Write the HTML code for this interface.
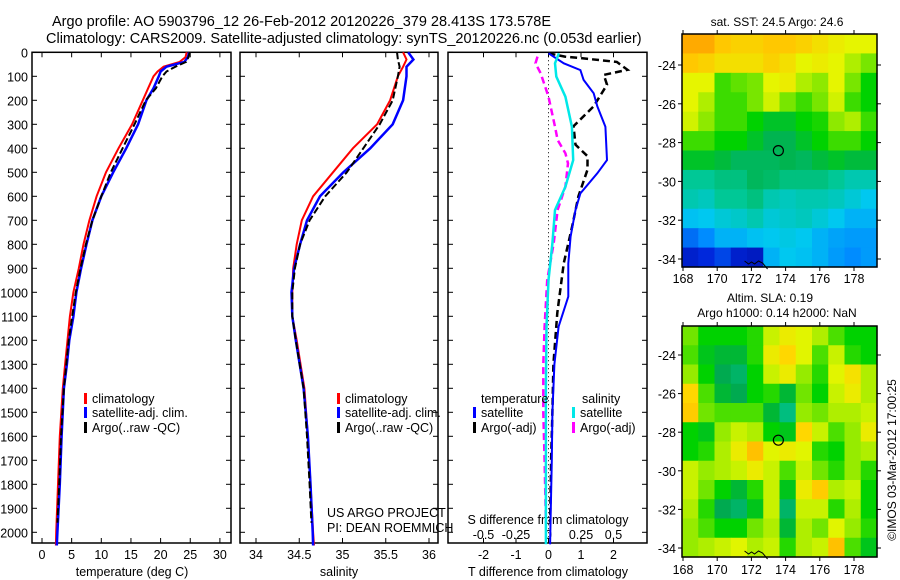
<!DOCTYPE html>
<html><head><meta charset="utf-8"><style>
html,body{margin:0;padding:0;background:#fff;}
svg{display:block;font-family:"Liberation Sans",sans-serif;}
text{fill:#000;}
</style></head><body>
<svg id="fig" width="900" height="580" viewBox="0 0 900 580" xmlns="http://www.w3.org/2000/svg">
<text x="52" y="26" font-size="14.5">Argo profile: AO 5903796_12 26-Feb-2012 20120226_379 28.413S 173.578E</text>
<text x="46" y="43" font-size="14.5">Climatology: CARS2009. Satellite-adjusted climatology: synTS_20120226.nc (0.053d earlier)</text>
<g id="p1"></g>
<g id="p2"></g>
<g id="p3"></g>
<g id="m1"></g>
<g id="m2"></g>
<text x="777" y="26" font-size="12" text-anchor="middle">sat. SST: 24.5 Argo: 24.6</text>
<text x="770" y="302" font-size="12" text-anchor="middle">Altim. SLA: 0.19</text>
<text x="777" y="317" font-size="12" text-anchor="middle">Argo h1000: 0.14 h2000: NaN</text>
<text transform="translate(896,460) rotate(-90)" font-size="12" text-anchor="middle">©IMOS 03-Mar-2012 17:00:25</text>
</svg>
<script>
// ---- data ----
const tDepth = [0,20,40,60,80,100,150,200,300,400,500,600,700,800,900,1000,1100,1200,1300,1400,1600,1800,2000,2055];
const tClim  = [24.4,24.2,23.2,20.5,19.5,18.8,17.9,17.0,15.2,12.9,10.8,9.2,8.0,7.0,6.2,5.3,4.7,4.3,3.9,3.5,3.0,2.7,2.4,2.35];
const tSat   = [24.8,24.6,24.0,21.0,20.0,19.7,18.8,17.6,16.2,14.2,12.0,10.0,8.5,7.5,6.6,5.8,5.3,4.6,4.2,3.7,3.3,3.0,2.6,2.5];
const argoDepth = [0,20,40,60,80,100,150,200,300,400,500,600,700,800,900,1000,1100,1200,1300,1400,1600,1800,1960];
const tArgo  = [24.9,24.7,24.3,22.5,21.0,20.3,19.2,17.5,15.6,13.6,11.6,10.0,8.5,7.4,6.5,5.7,5.1,4.5,4.1,3.7,3.2,2.9,2.6];
const sDepth = [0,30,60,100,200,300,400,500,600,700,800,900,1000,1100,1200,1400,1600,1800,2000,2055];
const sClim  = [35.70,35.74,35.70,35.64,35.55,35.40,35.12,34.89,34.66,34.53,34.47,34.43,34.42,34.42,34.47,34.56,34.60,34.63,34.66,34.67];
const sSat   = [35.76,35.82,35.74,35.74,35.70,35.58,35.32,35.01,34.74,34.59,34.51,34.44,34.41,34.42,34.46,34.55,34.60,34.63,34.655,34.66];
const sArgoDepth = [0,30,60,100,200,300,400,500,600,700,800,900,1000,1100,1200,1400,1600,1800,1960];
const sArgo  = [35.63,35.64,35.66,35.64,35.58,35.43,35.24,35.05,34.80,34.62,34.51,34.45,34.42,34.42,34.46,34.55,34.59,34.62,34.64];
const dDepth = [4,46,74,115,171,225,310,449,504,588,657,768,880,1018,1143,1300,1500,1700,1900,2050];
const dTsat  = [0,0.47,0.98,1.08,1.39,1.5,1.75,1.8,1.5,0.98,0.83,0.68,0.61,0.61,0.31,0.18,0.12,0.1,0.07,0.05];
const daDepth = [4,18,24,40,73,94,135,225,308,385,433,489,600,725,878,1086,1300,1500,1700,1960];
const dTargo = [0,0.5,0.98,2.1,2.43,1.7,1.8,1.39,0.77,0.83,1.2,1.2,0.92,0.73,0.47,0.27,0.15,0.12,0.08,0.05];
const dsDepth = [4,46,101,185,310,449,560,657,796,949,1143,1400,1700,2050];
const dSsat  = [0.08,0.05,0.06,0.13,0.18,0.19,0.13,0.05,0.03,0.0,-0.015,-0.02,-0.02,-0.02];
const dsaDepth = [18,46,88,185,310,365,421,463,560,657,796,949,1143,1300,1500,1700,1960];
const dSargo = [-0.085,-0.1,-0.06,0.0,0.05,0.07,0.13,0.15,0.13,0.07,0.04,-0.01,-0.03,-0.04,-0.04,-0.03,-0.02];
const depthTicks = [0,100,200,300,400,500,600,700,800,900,1000,1100,1200,1300,1400,1500,1600,1700,1800,1900,2000];
const tTicks = [0,5,10,15,20,25,30];
const sTicks = [34,34.5,35,35.5,36];
const sTickLabels = ["34","34.5","35","35.5","36"];
const dtTicks = [-2,-1,0,1,2];
const dsTicks = [-0.5,-0.25,0,0.25,0.5];
const dsTickLabels = ["-0.5","-0.25","0","0.25","0.5"];
const latTicks = [-24,-26,-28,-30,-32,-34];
const lonTicks = [168,170,172,174,176,178];
const sstGrid = [
[0.85,0.85,0.8,0.78,0.78,0.8,0.8,0.78,0.75,0.72,0.7,0.7],
[0.8,0.78,0.75,0.75,0.75,0.78,0.75,0.7,0.72,0.7,0.65,0.6],
[0.7,0.7,0.55,0.58,0.6,0.7,0.72,0.65,0.62,0.7,0.6,0.5],
[0.7,0.65,0.55,0.55,0.6,0.68,0.6,0.55,0.6,0.68,0.55,0.5],
[0.68,0.62,0.55,0.55,0.5,0.48,0.48,0.5,0.52,0.62,0.65,0.55],
[0.55,0.55,0.5,0.5,0.48,0.46,0.46,0.48,0.5,0.55,0.55,0.5],
[0.48,0.48,0.47,0.45,0.45,0.45,0.46,0.45,0.47,0.48,0.47,0.47],
[0.4,0.4,0.42,0.42,0.45,0.44,0.42,0.42,0.42,0.4,0.38,0.38],
[0.38,0.37,0.4,0.4,0.42,0.38,0.37,0.38,0.38,0.37,0.35,0.33],
[0.32,0.33,0.35,0.36,0.38,0.35,0.36,0.37,0.35,0.33,0.3,0.3],
[0.22,0.25,0.3,0.3,0.32,0.33,0.34,0.33,0.3,0.28,0.27,0.27],
[0.12,0.15,0.18,0.12,0.1,0.3,0.33,0.32,0.3,0.27,0.25,0.27]];
const slaGrid = [
[0.45,0.3,0.3,0.3,0.35,0.6,0.7,0.65,0.55,0.4,0.3,0.3],
[0.4,0.25,0.2,0.2,0.35,0.7,0.8,0.65,0.4,0.6,0.35,0.3],
[0.5,0.3,0.15,0.1,0.3,0.6,0.7,0.5,0.35,0.65,0.75,0.55],
[0.8,0.4,0.2,0.15,0.3,0.35,0.2,0.45,0.3,0.6,0.7,0.55],
[0.85,0.45,0.4,0.4,0.4,0.2,0.05,0.5,0.45,0.55,0.55,0.6],
[0.3,0.25,0.5,0.6,0.55,0.3,0.25,0.8,0.6,0.4,0.5,0.7],
[0.3,0.35,0.55,0.7,0.9,0.65,0.7,0.65,0.35,0.3,0.5,0.55],
[0.6,0.5,0.55,0.6,0.7,0.6,0.4,0.6,0.45,0.35,0.5,0.35],
[0.6,0.45,0.3,0.2,0.35,0.6,0.25,0.7,0.85,0.55,0.6,0.3],
[0.55,0.35,0.15,0.1,0.25,0.6,0.1,0.6,0.6,0.35,0.55,0.3],
[0.5,0.4,0.3,0.3,0.45,0.55,0.2,0.55,0.45,0.65,0.5,0.35],
[0.5,0.55,0.6,0.65,0.55,0.6,0.35,0.55,0.6,0.9,0.4,0.25]];
const argoLon = 173.578, argoLat = -28.413;

// ---- helpers ----
const NS = "http://www.w3.org/2000/svg";
function mk(parent, tag, attrs){ const e=document.createElementNS(NS,tag); for(const k in attrs) e.setAttribute(k,attrs[k]); parent.appendChild(e); return e; }
const TOP=52.3, PXM=0.24, BOT=543;
const yD = d => TOP + d*PXM;
function frame(g, x0, x1){
  const r = mk(g,'rect',{x:x0,y:TOP,width:x1-x0,height:BOT-TOP,fill:'none',stroke:'#000','stroke-width':1.5});
  
  
  depthTicks.forEach(d=>{
    mk(g,'line',{x1:x0,x2:x0+5,y1:yD(d),y2:yD(d),stroke:'#000'});
    mk(g,'line',{x1:x1-5,x2:x1,y1:yD(d),y2:yD(d),stroke:'#000'});
  });
}
function line(g, xs, ds, xf, color, w, dash, name){
  const pts = xs.map((v,i)=>xf(v).toFixed(1)+','+yD(ds[i]).toFixed(1)).join(' ');
  const p = mk(g,'polyline',{points:pts,fill:'none',stroke:color,'stroke-width':w});
  if(dash) p.setAttribute('stroke-dasharray',dash);
  
  
}
function txt(g, x, y, s, size, anchor, name){
  const t = mk(g,'text',{x:x,y:y,'font-size':size,'text-anchor':anchor||'start'});
  t.textContent = s;
  
  
  return t;
}
function legend(g, x, y, color, label, name){
  const b = mk(g,'rect',{x:x,y:y-10,width:3,height:11,fill:color});
  
  
  txt(g, x+8, y, label, 12.5, 'start', name);
}

// ---- panel 1: temperature ----
const g1 = document.getElementById('p1');
const xT = v => 42 + v*5.93;
frame(g1, 32, 231);
depthTicks.forEach(d=> txt(g1, 28, yD(d)+5, String(d), 12.5, 'end', 'depth-tick-label'));
tTicks.forEach(v=>{ mk(g1,'line',{x1:xT(v),x2:xT(v),y1:BOT,y2:BOT-5,stroke:'#000'}); mk(g1,'line',{x1:xT(v),x2:xT(v),y1:TOP,y2:TOP+5,stroke:'#000'}); txt(g1, xT(v), 559, String(v), 12.5, 'middle', 'temperature-tick-label'); });
txt(g1, 132, 576, 'temperature (deg C)', 12.5, 'middle', 'temperature-axis-title');
line(g1, tClim, tDepth, xT, '#ff0000', 2, null, 'temperature-climatology-line');
line(g1, tSat, tDepth, xT, '#0000ff', 2.5, null, 'temperature-satellite-line');
line(g1, tArgo, argoDepth, xT, '#000', 2, '7,3', 'temperature-argo-line');
legend(g1, 84, 403, '#ff0000', 'climatology', 'legend-climatology');
legend(g1, 84, 417, '#0000ff', 'satellite-adj. clim.', 'legend-satellite');
legend(g1, 84, 432, '#000', 'Argo(..raw -QC)', 'legend-argo');

// ---- panel 2: salinity ----
const g2 = document.getElementById('p2');
const xS = v => 256 + (v-34)*86.5;
frame(g2, 240, 438);
sTicks.forEach((v,i)=>{ mk(g2,'line',{x1:xS(v),x2:xS(v),y1:BOT,y2:BOT-5,stroke:'#000'}); mk(g2,'line',{x1:xS(v),x2:xS(v),y1:TOP,y2:TOP+5,stroke:'#000'}); txt(g2, xS(v), 559, sTickLabels[i], 12.5, 'middle', 'salinity-tick-label'); });
txt(g2, 339, 576, 'salinity', 12.5, 'middle', 'salinity-axis-title');
line(g2, sClim, sDepth, xS, '#ff0000', 2, null, 'salinity-climatology-line');
line(g2, sSat, sDepth, xS, '#0000ff', 2.5, null, 'salinity-satellite-line');
line(g2, sArgo, sArgoDepth, xS, '#000', 2, '7,3', 'salinity-argo-line');
legend(g2, 337, 403, '#ff0000', 'climatology', 'legend-climatology');
legend(g2, 337, 417, '#0000ff', 'satellite-adj. clim.', 'legend-satellite');
legend(g2, 337, 432, '#000', 'Argo(..raw -QC)', 'legend-argo');
txt(g2, 327, 517, 'US ARGO PROJECT', 12.5, 'start', 'project-credit');
txt(g2, 327, 532, 'PI: DEAN ROEMMICH', 12.5, 'start', 'pi-credit');

// ---- panel 3: differences ----
const g3 = document.getElementById('p3');
const xdT = v => 548.5 + v*32.5;
const xdS = v => 548.5 + v*130;
frame(g3, 448, 647);
mk(g3,'line',{x1:548.5,x2:548.5,y1:TOP,y2:BOT,stroke:'#000','stroke-dasharray':'1,3'});
dtTicks.forEach(v=>{ mk(g3,'line',{x1:xdT(v),x2:xdT(v),y1:BOT,y2:BOT-5,stroke:'#000'}); mk(g3,'line',{x1:xdT(v),x2:xdT(v),y1:TOP,y2:TOP+5,stroke:'#000'}); txt(g3, xdT(v), 559, String(v), 12.5, 'middle', 't-diff-tick-label'); });
dsTicks.forEach((v,i)=> txt(g3, xdS(v), 539, dsTickLabels[i], 12.5, 'middle', 's-diff-tick-label'));
txt(g3, 548, 576, 'T difference from climatology', 12.5, 'middle', 't-diff-axis-title');
txt(g3, 548, 524, 'S difference from climatology', 12.5, 'middle', 's-diff-axis-title');
line(g3, dSargo, dsaDepth, xdS, '#ff00ff', 2.5, '7,4', 's-argo-diff-line');
line(g3, dTargo, daDepth, xdT, '#000', 2.5, '7,4', 't-argo-diff-line');
line(g3, dTsat, dDepth, xdT, '#0000ff', 2, null, 't-satellite-diff-line');
line(g3, dSsat, dsDepth, xdS, '#00e8e8', 2.5, null, 's-satellite-diff-line');
txt(g3, 481, 403, 'temperature', 12.5, 'start', 'legend-temperature-header');
txt(g3, 582, 403, 'salinity', 12.5, 'start', 'legend-salinity-header');
legend(g3, 473, 417, '#0000ff', 'satellite', 'legend-t-satellite');
legend(g3, 473, 432, '#000', 'Argo(-adj)', 'legend-t-argo');
legend(g3, 572, 417, '#00e8e8', 'satellite', 'legend-s-satellite');
legend(g3, 572, 432, '#ff00ff', 'Argo(-adj)', 'legend-s-argo');

// ---- maps ----
function lerpColor(stops, v){
  v = Math.max(0, Math.min(1, v));
  for(let i=1;i<stops.length;i++){
    if(v <= stops[i][0]){
      const a=stops[i-1], b=stops[i], t=(v-a[0])/(b[0]-a[0]);
      const c=[0,1,2].map(k=>Math.round(a[1][k]+(b[1][k]-a[1][k])*t));
      return 'rgb('+c.join(',')+')';
    }
  }
  return 'rgb('+stops[stops.length-1][1].join(',')+')';
}
const sstStops = [[0,[0,0,140]],[0.15,[0,40,220]],[0.25,[0,140,255]],[0.33,[0,200,240]],[0.4,[0,200,150]],[0.46,[0,180,80]],[0.5,[0,210,0]],[0.6,[120,230,0]],[0.7,[230,245,0]],[0.8,[255,200,0]],[0.9,[255,140,0]],[1,[255,90,0]]];
const slaStops = [[0,[0,200,150]],[0.15,[0,170,80]],[0.3,[0,210,0]],[0.5,[150,235,0]],[0.65,[225,245,0]],[0.8,[255,215,0]],[1,[255,170,0]]];
function drawMap(id, grid, stops, x0, x1, y0, y1, lat24y, lat34y, lonLabelY, name){
  const g = document.getElementById(id);
  const xL = lon => 683 + (lon-168)*17.1;
  const yL = lat => lat24y + (-24-lat)*(lat34y-lat24y)/10;
  const rows = grid.length, cols = grid[0].length;
  const cw = (x1-x0)/cols, ch = (y1-y0)/rows;
  grid.forEach((row,r)=>row.forEach((v,c)=>{
    const cell = mk(g,'rect',{x:(x0+c*cw).toFixed(2),y:(y0+r*ch).toFixed(2),width:(cw+0.6).toFixed(2),height:(ch+0.6).toFixed(2),fill:lerpColor(stops,v)});
    
    
  }));
  const fr = mk(g,'rect',{x:x0,y:y0,width:x1-x0,height:y1-y0,fill:'none',stroke:'#000','stroke-width':1.5});
  
  
  latTicks.forEach(lat=>{
    mk(g,'line',{x1:x0-4,x2:x0,y1:yL(lat),y2:yL(lat),stroke:'#000'});
    mk(g,'line',{x1:x1,x2:x1+4,y1:yL(lat),y2:yL(lat),stroke:'#000'});
    txt(g, x0-6, yL(lat)+5, String(lat), 12.5, 'end', name+'-lat-label');
  });
  lonTicks.forEach(lon=>{
    mk(g,'line',{x1:xL(lon),x2:xL(lon),y1:y0-4,y2:y0,stroke:'#000'});
    mk(g,'line',{x1:xL(lon),x2:xL(lon),y1:y1,y2:y1+4,stroke:'#000'});
    txt(g, xL(lon), lonLabelY, String(lon), 12.5, 'middle', name+'-lon-label');
  });
  const m = mk(g,'circle',{cx:xL(argoLon),cy:yL(argoLat),r:5,fill:'none',stroke:'#000','stroke-width':1.2});
  
  
  const coast = mk(g,'path',{d:'M'+xL(171.6)+','+(y1-6)+' l4,3 l3,-2 l3,2 l4,-3 l4,2 l5,6',fill:'none',stroke:'#000','stroke-width':1});
  
  
}
drawMap('m1', sstGrid, sstStops, 682, 877, 34, 267, 65, 259, 283, 'sst-map');
drawMap('m2', slaGrid, slaStops, 682, 877, 326, 557, 355, 548, 574, 'sla-map');
</script>
</body></html>
